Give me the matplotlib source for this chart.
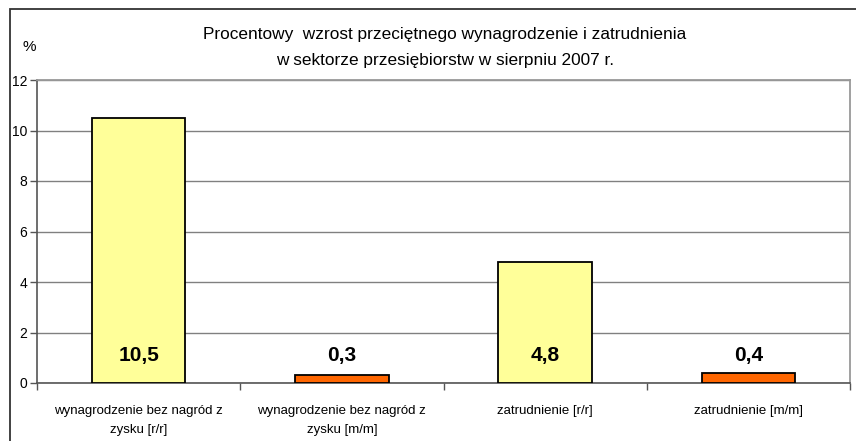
import numpy as np
import matplotlib.pyplot as plt
from matplotlib.patches import Rectangle

plt.rcParams['font.family'] = ['Liberation Sans', 'DejaVu Sans']

categories = ["wynagrodzenie bez nagród z\nzysku [r/r]",
              "wynagrodzenie bez nagród z\nzysku [m/m]",
              "zatrudnienie [r/r]",
              "zatrudnienie [m/m]"]
values = [10.5, 0.3, 4.8, 0.4]
value_labels = ["10,5", "0,3", "4,8", "0,4"]
colors = ["#FFFF99", "#FF6600", "#FFFF99", "#FF6600"]

fig = plt.figure(figsize=(8.56, 4.41), dpi=100)
ax = fig.add_axes([37/856, 1-383/441, (850-37)/856, (383-80)/441])

# outer chart frame
fig.patches.append(Rectangle((10/856, -0.05), 1.0, 1-9/441+0.05, transform=fig.transFigure,
                             fill=False, ec="#333333", lw=1.3))

x = np.arange(len(values))
ax.bar(x, values, width=0.46, color=colors, edgecolor="black", lw=1.3, zorder=3)
for xi, lab in zip(x, value_labels):
    ax.text(xi, 1.1, lab, ha="center", va="center", fontsize=15, fontweight="bold", zorder=4)

ax.set_xlim(-0.5, 3.5)
ax.set_ylim(0, 12)
ax.set_yticks(range(0, 13, 2))
ax.set_yticklabels([str(v) for v in range(0, 13, 2)], fontsize=10)
ax.yaxis.grid(True, color="#808080", lw=1, zorder=0)

ax.set_xticks(np.arange(-0.5, 4, 1))
ax.set_xticklabels([])
ax.set_xticks(x, minor=True)
ax.set_xticklabels(categories, minor=True, fontsize=9.5, linespacing=1.75)
ax.tick_params(axis="x", which="minor", length=0, pad=16)
ax.tick_params(axis="x", which="major", length=5, width=1, direction="out", color="#555555")
ax.tick_params(axis="y", length=5, width=1, direction="out", color="#555555", pad=2)

for side in ["top", "right"]:
    ax.spines[side].set_color("#999999")
    ax.spines[side].set_linewidth(1.3)
for side in ["left", "bottom"]:
    ax.spines[side].set_color("#555555")
    ax.spines[side].set_linewidth(1.2)

fig.text(445/856, 1-35/441, "Procentowy  wzrost przeciętnego wynagrodzenie i zatrudnienia",
         ha="center", va="center", fontsize=12.4)
fig.text(445/856, 1-60/441, "w sektorze przesiębiorstw w sierpniu 2007 r.",
         ha="center", va="center", fontsize=12.4)
fig.text(29/856, 1-47/441, "%", ha="center", va="center", fontsize=11)

fig.savefig("out.png", dpi=100)
